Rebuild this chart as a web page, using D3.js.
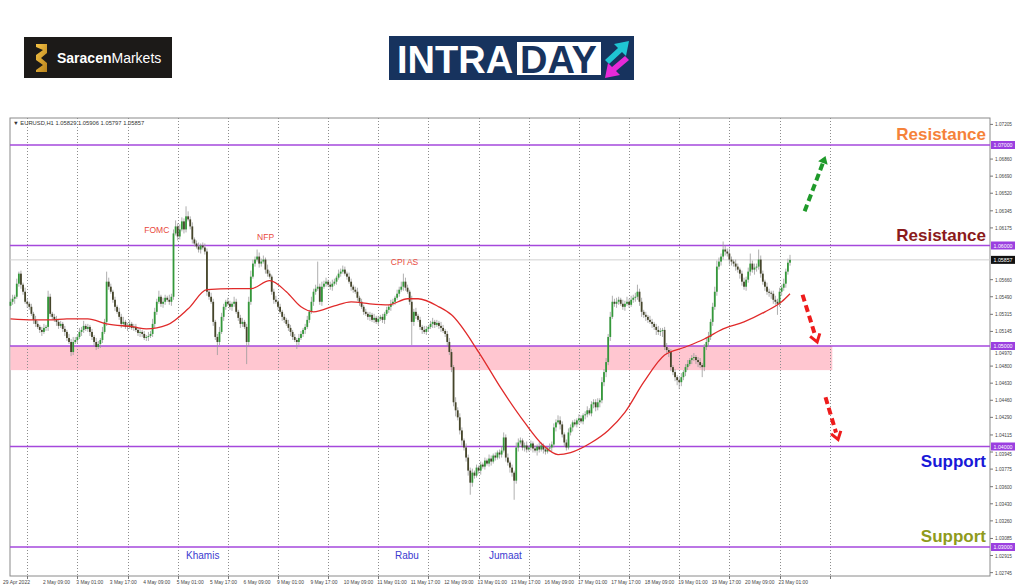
<!DOCTYPE html>
<html><head><meta charset="utf-8">
<script src="https://cdn.jsdelivr.net/npm/d3@7"></script>
<style>body{margin:0;background:#fff}svg{display:block}</style>
</head><body><svg id="c" width="1024" height="587"></svg>
<script>
// ---------- DATA ----------
const symbolInfo = "EURUSD,H1  1.05829 1.05906 1.05797 1.05857";
const firstOpen = 1.0540;
const closes = [
1.0544,1.0547,1.0549,1.0562,1.0572,1.0561,1.0554,1.0544,1.0542,1.0539,1.0532,1.0526,1.0522,1.0519,1.0516,1.0514,1.0518,1.0519,1.0549,1.0532,
1.0529,1.0526,1.0524,1.0520,1.0522,1.0517,1.0514,1.0508,1.0504,1.0494,1.0504,1.0506,1.0509,1.0514,1.0516,1.0520,1.0517,1.0519,1.0514,1.0509,
1.0504,1.0499,1.0502,1.0506,1.0514,1.0524,1.0564,1.0559,1.0554,1.0546,1.0539,1.0534,1.0529,1.0522,1.0524,1.0519,1.0520,1.0522,1.0518,1.0519,
1.0516,1.0513,1.0514,1.0512,1.0508,1.0509,1.0510,1.0512,1.0522,1.0534,1.0544,1.0549,1.0542,1.0544,1.0548,1.0546,1.0544,1.0549,1.0612,1.0619,
1.0609,1.0616,1.0624,1.0616,1.0629,1.0626,1.0619,1.0606,1.0602,1.0599,1.0596,1.0600,1.0598,1.0594,1.0554,1.0549,1.0544,1.0524,1.0509,1.0504,
1.0514,1.0529,1.0539,1.0544,1.0542,1.0539,1.0542,1.0544,1.0534,1.0528,1.0522,1.0524,1.0519,1.0504,1.0544,1.0569,1.0582,1.0586,1.0589,1.0582,
1.0584,1.0586,1.0576,1.0572,1.0569,1.0554,1.0546,1.0544,1.0539,1.0534,1.0529,1.0526,1.0522,1.0518,1.0514,1.0509,1.0506,1.0504,1.0508,1.0512,
1.0516,1.0519,1.0526,1.0534,1.0544,1.0554,1.0557,1.0559,1.0544,1.0559,1.0562,1.0564,1.0561,1.0559,1.0562,1.0564,1.0568,1.0572,1.0574,1.0576,
1.0572,1.0569,1.0564,1.0559,1.0556,1.0554,1.0548,1.0544,1.0539,1.0534,1.0532,1.0529,1.0531,1.0526,1.0528,1.0524,1.0527,1.0529,1.0526,1.0532,
1.0536,1.0539,1.0542,1.0544,1.0548,1.0552,1.0556,1.0559,1.0564,1.0558,1.0554,1.0544,1.0524,1.0534,1.0530,1.0526,1.0519,1.0516,1.0514,1.0517,
1.0519,1.0522,1.0524,1.0521,1.0523,1.0520,1.0518,1.0515,1.0512,1.0504,1.0494,1.0479,1.0444,1.0436,1.0429,1.0416,1.0406,1.0399,1.0389,1.0376,
1.0364,1.0374,1.0371,1.0379,1.0376,1.0382,1.0380,1.0386,1.0383,1.0388,1.0385,1.0391,1.0389,1.0394,1.0392,1.0396,1.0409,1.0389,1.0384,1.0379,
1.0374,1.0366,1.0399,1.0404,1.0406,1.0399,1.0401,1.0397,1.0399,1.0403,1.0398,1.0396,1.0400,1.0397,1.0401,1.0397,1.0395,1.0398,1.0399,1.0402,
1.0419,1.0424,1.0426,1.0422,1.0412,1.0404,1.0399,1.0414,1.0419,1.0424,1.0422,1.0426,1.0428,1.0425,1.0431,1.0432,1.0436,1.0433,1.0442,1.0444,
1.0439,1.0444,1.0446,1.0464,1.0474,1.0484,1.0509,1.0529,1.0544,1.0542,1.0544,1.0546,1.0542,1.0539,1.0542,1.0544,1.0541,1.0546,1.0548,1.0549,
1.0554,1.0544,1.0534,1.0531,1.0529,1.0526,1.0524,1.0522,1.0519,1.0516,1.0514,1.0515,1.0516,1.0499,1.0496,1.0494,1.0479,1.0474,1.0469,1.0466,
1.0464,1.0469,1.0474,1.0479,1.0482,1.0486,1.0488,1.0489,1.0486,1.0484,1.0481,1.0479,1.0499,1.0504,1.0509,1.0524,1.0539,1.0554,1.0579,1.0584,
1.0589,1.0596,1.0594,1.0592,1.0586,1.0584,1.0582,1.0579,1.0576,1.0572,1.0564,1.0559,1.0566,1.0574,1.0582,1.0576,1.0578,1.0579,1.0586,1.0572,
1.0564,1.0559,1.0554,1.0553,1.0552,1.0546,1.0544,1.0542,1.0554,1.0558,1.0562,1.0574,1.05829,1.05857];
const upperWick = [
3,4,2,5,2,3,2,4,3,2,3,2,4,3,2,3,4,2,6,3, 2,3,4,2,3,2,3,2,4,3,5,3,2,4,3,5,2,3,2,3,
2,4,3,2,5,3,10,4,3,2,3,2,4,3,5,2,3,4,2,3, 3,2,4,2,3,2,4,3,5,4,3,6,2,4,3,2,5,3,4,6,
3,5,4,3,10,5,3,4,2,3,4,2,3,4,3,2,4,3,2,3, 5,4,3,2,4,3,2,5,3,2,3,4,2,3,5,6,4,3,7,4,
3,4,2,5,3,2,3,4,2,3,2,3,2,4,3,2,3,2,4,3, 2,3,4,2,5,3,4,25,3,5,3,4,2,3,4,3,2,4,3,4,
3,2,4,3,2,3,4,2,3,2,3,2,3,2,4,2,3,2,3,2, 3,2,4,3,2,4,3,5,8,4,3,2,6,3,4,2,3,2,4,3,
2,3,4,2,3,2,4,3,2,3,4,3,2,5,3,4,3,2,4,3, 3,4,2,3,2,3,2,3,2,4,3,2,3,2,3,4,5,3,4,2,
3,2,5,4,3,2,3,4,2,3,2,3,2,4,3,2,3,2,4,3, 4,3,5,4,3,2,3,4,3,2,3,2,4,3,2,3,4,2,3,3,
3,4,2,5,3,4,3,5,6,3,4,3,2,4,3,5,3,4,3,4, 7,3,4,2,3,2,4,3,2,3,4,3,2,3,4,2,3,2,3,2,
3,4,2,3,4,2,3,4,2,3,4,2,3,4,5,3,4,5,6,4, 3,8,4,3,5,3,2,4,3,2,3,4,3,4,10,3,4,3,10,4,
3,2,4,3,2,3,4,3,4,3,5,3,4,5];
const lowerWick = [
4,3,5,2,3,4,3,2,4,3,2,4,3,2,3,4,2,3,4,3, 3,2,4,3,2,3,4,3,2,4,3,2,3,2,4,3,2,3,4,3,
4,3,2,4,3,2,4,3,2,3,4,2,3,4,3,2,4,3,2,3, 2,3,4,3,2,3,4,2,3,4,3,2,3,4,3,2,3,4,3,2,
4,3,2,4,3,2,3,4,3,2,3,4,2,3,4,3,2,4,3,13, 3,2,4,3,2,3,4,3,2,3,4,3,2,22,4,3,2,3,2,4,
3,2,4,3,2,3,4,2,3,2,4,3,2,3,4,3,2,7,3,2, 3,4,2,3,2,4,3,2,3,4,2,3,2,3,4,2,3,2,3,2,
2,3,2,4,3,2,3,4,2,3,2,3,4,2,3,2,3,2,3,4, 2,3,4,2,3,2,3,2,4,3,2,3,23,4,3,2,3,4,2,3,
3,2,4,3,2,3,4,2,3,4,3,5,4,6,3,4,5,3,4,5, 12,4,3,2,3,4,2,3,2,3,4,2,3,2,4,3,2,4,3,5,
4,19,3,4,2,3,4,3,2,3,4,2,5,3,2,4,3,2,3,4, 3,4,2,5,3,4,3,2,3,4,2,3,4,2,3,4,3,2,3,4,
4,3,5,3,4,5,3,4,2,3,4,3,2,3,4,2,3,2,3,4, 3,4,5,3,4,3,2,4,3,5,3,4,6,3,4,5,4,3,4,5,
7,4,3,4,3,2,4,3,4,5,3,10,4,3,4,3,4,3,4,3, 4,3,4,3,5,4,3,4,3,5,4,3,4,3,4,3,5,4,3,4,
3,4,3,4,5,4,3,11,3,4,3,4,3,3];
const maBars   = [0,11,19,27,37,46,59,65,75,85,94,107,115,124,132,139,145,155,163,172,181,190,195,205,211,224,235,246,255,262,268,278,286,294,303,313,323,332,341,351,361,369,373];
const maValues = [1.0527,1.0526,1.0526,1.0527,1.0527,1.0522,1.0519,1.0517,1.0521,1.0537,1.0556,1.0557,1.0557,1.0565,1.0554,1.0539,1.0534,1.0540,1.0544,1.0542,1.0541,1.0547,1.0547,1.0539,1.0531,1.0494,1.0457,1.0424,1.0401,1.0392,1.0394,1.0404,1.0416,1.0434,1.0464,1.0491,1.0499,1.0507,1.0517,1.0524,1.0534,1.0544,1.0552];
const xLabels = ["29 Apr 2022","2 May 09:00","3 May 01:00","3 May 17:00","4 May 09:00","5 May 01:00","5 May 17:00","6 May 09:00","9 May 01:00","9 May 17:00","10 May 09:00","11 May 01:00","11 May 17:00","12 May 09:00","13 May 01:00","13 May 17:00","16 May 09:00","17 May 01:00","17 May 17:00","18 May 09:00","19 May 01:00","19 May 17:00","20 May 09:00","23 May 01:00"];
const yTicks = [1.07205,1.06860,1.06690,1.06520,1.06345,1.06175,1.05660,1.05490,1.05315,1.05145,1.04970,1.04800,1.04630,1.04460,1.04290,1.04115,1.03945,1.03775,1.03600,1.03430,1.03260,1.03085,1.02915,1.02745];
const levels = [1.07, 1.06, 1.05, 1.04, 1.03];
const lastPrice = 1.05857;
const zoneTop = 1.0500, zoneBottom = 1.0476, zoneEndBar = 393;
const gridStartBar = 8, gridStep = 24, gridCount = 17;
const events = [{t:"FOMC",bar:76,p:1.0612,anchor:"end"},{t:"NFP",bar:118,p:1.0605,anchor:"start"},{t:"CPI AS",bar:182,p:1.0581,anchor:"start"}];
const dayNotes = [{t:"Khamis",bar:84},{t:"Rabu",bar:184},{t:"Jumaat",bar:229}];
const zoneNotes = [
 {t:"Resistance",p:1.0700,dy:-5,color:"#f5823a"},
 {t:"Resistance",p:1.0600,dy:-5,color:"#8b1b1b"},
 {t:"Support",p:1.0400,dy:20,color:"#1818d8"},
 {t:"Support",p:1.0300,dy:-5,color:"#8f9b1c"}];
const arrows = [
 {b0:380,p0:1.0634,b1:390,p1:1.0689,color:"#1f9a2a",head:"fill"},
 {b0:379,p0:1.0551,b1:386,p1:1.0504,color:"#ee1c1c",head:"open"},
 {b0:390,p0:1.0449,b1:396,p1:1.0407,color:"#ee1c1c",head:"open"}];

// ---------- DRAW ----------
const svg = d3.select("#c");
const FONT = "Liberation Sans, Arial, sans-serif";
const L=10, T=118, R=990, B=576;
const x = d3.scaleLinear().domain([0,373]).range([10.5,790]);
const y = d3.scaleLinear().domain([1.03,1.07]).range([547,145]);

// logos
const lg = svg.append("g");
lg.append("rect").attr("x",24).attr("y",37).attr("width",148).attr("height",41).attr("fill","#1c1a18");
const gold = svg.append("defs").append("linearGradient").attr("id","gold").attr("x1",0).attr("y1",0).attr("x2",1).attr("y2",1);
gold.append("stop").attr("offset","0").attr("stop-color","#f6c445");
gold.append("stop").attr("offset","1").attr("stop-color","#b8821c");
lg.append("path").attr("d","M36,44 L47,44 L47,53 L41,58 L47,63 L47,72 L36,72 L36,70 L43,65 L36,60 L36,55 L43,50 L36,47 Z").attr("fill","url(#gold)");
const st = lg.append("text").attr("x",57).attr("y",62.5).attr("font-family",FONT).attr("font-size",14).attr("fill","#fff");
st.append("tspan").attr("font-weight","bold").text("Saracen");
st.append("tspan").text("Markets");

lg.append("rect").attr("x",389).attr("y",36).attr("width",245).attr("height",44).attr("fill","#17335e");
lg.append("text").attr("x",397).attr("y",73).attr("font-family",FONT).attr("font-weight","bold").attr("font-size",38).attr("fill","#fff").text("INTRA");
lg.append("rect").attr("x",517).attr("y",42).attr("width",84).attr("height",33).attr("fill","#fff");
lg.append("text").attr("x",520).attr("y",73).attr("font-family",FONT).attr("font-weight","bold").attr("font-size",38).attr("fill","#17335e").text("DAY");
lg.append("path").attr("d","M605,60 L618,48 L614,44 L629,41 L626,56 L622,52 L609,64 Z").attr("fill","#1fc5d3");
lg.append("path").attr("d","M629,60 L616,71 L620,75 L605,78 L608,63 L612,67 L625,56 Z").attr("fill","#e62ad8");

// chart frame
svg.append("rect").attr("x",L).attr("y",T).attr("width",R-L).attr("height",B-T).attr("fill","#fff").attr("stroke","#8a8a8a").attr("stroke-width",1);

// pink zone
svg.append("rect").attr("x",L+0.5).attr("y",y(zoneTop)).attr("width",x(zoneEndBar)-L).attr("height",y(zoneBottom)-y(zoneTop)).attr("fill","#ffc6d0");

// vertical dotted grid
const gridBars = d3.range(gridCount).map(k=>gridStartBar+k*gridStep);
svg.append("g").selectAll("line").data(gridBars).join("line")
  .attr("x1",d=>Math.round(x(d))+0.5).attr("x2",d=>Math.round(x(d))+0.5).attr("y1",T).attr("y2",B)
  .attr("stroke","#8c8c8c").attr("stroke-width",1).attr("stroke-dasharray","1,2");

// last price line
svg.append("line").attr("x1",L).attr("x2",R).attr("y1",y(lastPrice)).attr("y2",y(lastPrice)).attr("stroke","#d0d0d0").attr("stroke-width",1);

// level lines
svg.append("g").selectAll("line").data(levels).join("line")
  .attr("x1",L).attr("x2",R).attr("y1",d=>y(d)).attr("y2",d=>y(d))
  .attr("stroke","#a548dc").attr("stroke-width",1.6);

// candles
const bars = closes.map((c,i)=>{
  const o = i===0?firstOpen:closes[i-1];
  return {i,o,c,h:Math.max(o,c)+upperWick[i]/10000,l:Math.min(o,c)-lowerWick[i]/10000};
});
const cg = svg.append("g");
cg.selectAll("line").data(bars).join("line")
  .attr("x1",d=>x(d.i)).attr("x2",d=>x(d.i)).attr("y1",d=>y(d.h)).attr("y2",d=>y(d.l))
  .attr("stroke","#9a9a9a").attr("stroke-width",0.8);
cg.selectAll("rect").data(bars).join("rect")
  .attr("x",d=>x(d.i)-0.9).attr("width",1.8)
  .attr("y",d=>y(Math.max(d.o,d.c)))
  .attr("height",d=>Math.max(0.8,Math.abs(y(d.o)-y(d.c))))
  .attr("fill",d=>d.c>=d.o?"#34983a":"#45452a");

// moving average
const ma = maBars.map((b,k)=>[b,maValues[k]]);
svg.append("path").datum(ma)
  .attr("d",d3.line().x(d=>x(d[0])).y(d=>y(d[1])).curve(d3.curveMonotoneX))
  .attr("fill","none").attr("stroke","#e02a2a").attr("stroke-width",1.3);

// header
svg.append("text").attr("x",13).attr("y",125).attr("font-family",FONT).attr("font-size",5.8).attr("fill","#333").text("\u25BC "+symbolInfo);

// event labels
svg.append("g").selectAll("text").data(events).join("text")
  .attr("x",d=>x(d.bar)).attr("y",d=>y(d.p)).attr("text-anchor",d=>d.anchor)
  .attr("font-family",FONT).attr("font-size",8.5).attr("fill","#e8483c").text(d=>d.t);
svg.append("g").selectAll("text").data(dayNotes).join("text")
  .attr("x",d=>x(d.bar)).attr("y",559)
  .attr("font-family",FONT).attr("font-size",10).attr("fill","#3b3bd0").text(d=>d.t);

// zone notes
svg.append("g").selectAll("text").data(zoneNotes).join("text")
  .attr("x",986).attr("y",d=>y(d.p)+d.dy).attr("text-anchor","end")
  .attr("font-family",FONT).attr("font-weight","bold").attr("font-size",17)
  .attr("fill",d=>d.color).text(d=>d.t);

// arrows
arrows.forEach(a=>{
  const x0=x(a.b0),y0=y(a.p0),x1=x(a.b1),y1=y(a.p1);
  const ang=Math.atan2(y1-y0,x1-x0);
  const hl=9;
  const sx=x1-Math.cos(ang)*hl*0.8, sy=y1-Math.sin(ang)*hl*0.8;
  svg.append("line").attr("x1",x0).attr("y1",y0).attr("x2",sx).attr("y2",sy)
    .attr("stroke",a.color).attr("stroke-width",4).attr("stroke-dasharray","7,4");
  const p1=[x1-hl*Math.cos(ang-0.6),y1-hl*Math.sin(ang-0.6)];
  const p2=[x1-hl*Math.cos(ang+0.6),y1-hl*Math.sin(ang+0.6)];
  if(a.head==="fill"){
    svg.append("path").attr("d",`M${x1},${y1}L${p1[0]},${p1[1]}L${p2[0]},${p2[1]}Z`).attr("fill",a.color);
  } else {
    svg.append("path").attr("d",`M${p1[0]},${p1[1]}L${x1},${y1}L${p2[0]},${p2[1]}`).attr("fill","none").attr("stroke",a.color).attr("stroke-width",3);
  }
});

// y axis labels (ticks hidden behind boxes are nudged clear of them)
const boxes = levels.map(v=>({v,fill:"#9b3fe0"})).concat([{v:lastPrice,fill:"#111"}]);
const yg = svg.append("g").attr("font-family",FONT).attr("font-size",5.8);
yg.selectAll("line").data(yTicks).join("line").attr("x1",R).attr("x2",R+3).attr("y1",d=>y(d)).attr("y2",d=>y(d)).attr("stroke","#777");
function labelY(v){
  let ty = y(v)+2;
  boxes.forEach(b=>{const by=y(b.v); if(Math.abs(ty-2-by)<8){ ty = (ty-2>by)? by+4+5.2 : by-4-1; }});
  return ty;
}
yg.selectAll("text").data(yTicks).join("text").attr("x",995).attr("y",labelY)
  .attr("textLength",17).attr("lengthAdjust","spacingAndGlyphs").attr("fill","#444").text(d=>d.toFixed(5));
const bg = yg.selectAll("g.b").data(boxes).join("g");
bg.append("rect").attr("x",991).attr("y",d=>y(d.v)-4).attr("width",24).attr("height",8).attr("fill",d=>d.fill);
bg.append("text").attr("x",993.5).attr("y",d=>y(d.v)+2).attr("textLength",19).attr("lengthAdjust","spacingAndGlyphs").attr("fill","#fff").text(d=>d.v.toFixed(5));

// x axis labels & ticks
svg.append("g").selectAll("line").data(gridBars).join("line")
  .attr("x1",d=>Math.round(x(d))+0.5).attr("x2",d=>Math.round(x(d))+0.5).attr("y1",B).attr("y2",B+3).attr("stroke","#777");
svg.append("g").selectAll("text").data(xLabels).join("text")
  .attr("x",(d,k)=>k===0?3:x(k*16)-1).attr("y",584)
  .attr("textLength",d=>d.length*2.45).attr("lengthAdjust","spacingAndGlyphs")
  .attr("font-family",FONT).attr("font-size",6).attr("fill","#444").text(d=>d);
</script></body></html>
